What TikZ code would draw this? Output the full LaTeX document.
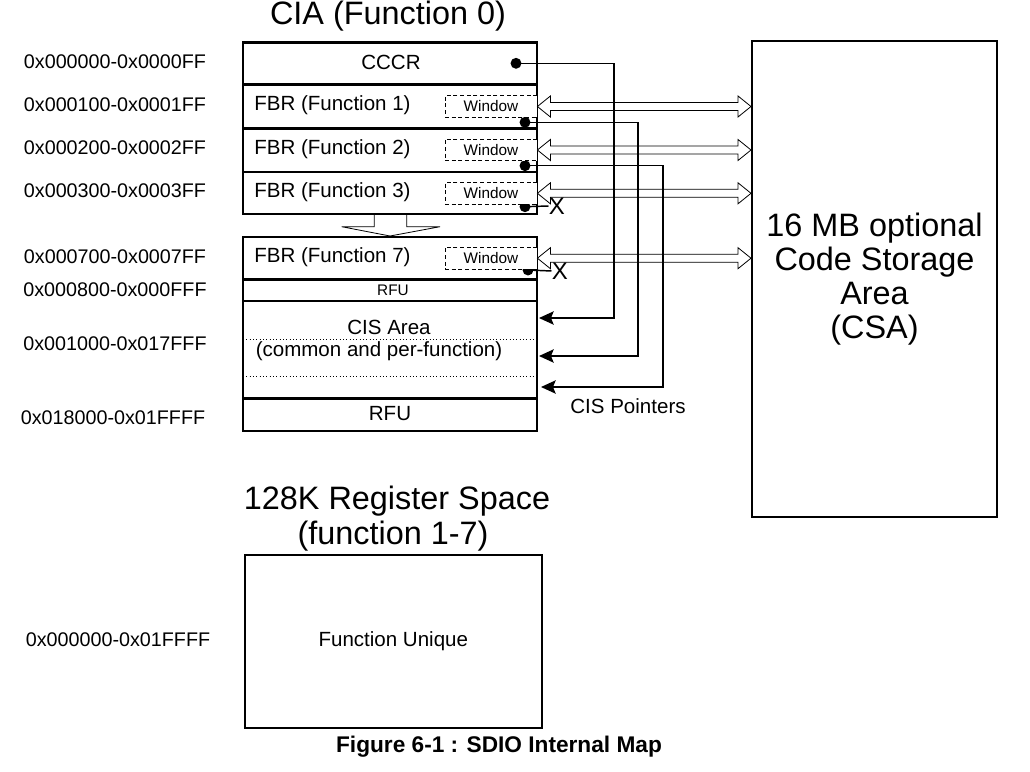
\documentclass[tikz,border=0pt]{standalone}
\usepackage{fontspec}
\setmainfont{Liberation Sans}
\usepackage{tikz}
\usetikzlibrary{arrows.meta,calc}

% hollow double arrow between a window (#1) and the CSA edge (#2)
\newcommand{\winarrow}[2]{%
  \draw[hollow] (#1) -- ($(#1)+(13,-10.5)$) -- ($(#1)+(13,-4)$) -- ($(#2)+(-13,-4)$)
    -- ($(#2)+(-13,-10.5)$) -- (#2) -- ($(#2)+(-13,10.5)$) -- ($(#2)+(-13,4)$)
    -- ($(#1)+(13,4)$) -- ($(#1)+(13,10.5)$) -- cycle;}

\begin{document}
\begin{tikzpicture}[x=0.75pt,y=-0.75pt,>=Stealth,line join=miter,
  mapline/.style={line width=1.8pt},
  winbox/.style={draw,dash pattern=on 3pt off 2pt,line width=0.6pt,fill=white,
    minimum width=69pt,minimum height=16.2pt,inner sep=0pt,font=\fontsize{11.5}{13}\selectfont},
  addr/.style={font=\fontsize{14.8}{17}\selectfont,inner sep=0pt},
  rowtext/.style={font=\fontsize{15.4}{18}\selectfont,inner sep=0pt},
  smalltext/.style={font=\fontsize{11.5}{13}\selectfont,inner sep=0pt},
  bigtext/.style={font=\fontsize{24.3}{25.5}\selectfont,inner sep=0pt},
  ptr/.style={line width=1.1pt,-{Stealth[length=11pt,width=10pt,inset=2pt]}},
  link/.style={line width=1.1pt},
  hollow/.style={draw,fill=white,line width=0.6pt},
  dotmark/.style={circle,fill,inner sep=0pt,minimum size=8.2pt},
  nomark/.style={font=\fontsize{18}{20}\selectfont,inner sep=0pt}]
  \useasboundingbox (0,0) rectangle (1030,771);

  % titles
  \node[bigtext] (ciatitle) at (388,16) {CIA (Function 0)};
  \node[bigtext] (regtitle) at (397,501) {128K Register Space};
  \node[bigtext] (regsub) at (393,536.5) {(function 1-7)};

  % CIA map, upper block
  \draw[mapline] (243,42.5) rectangle (537,214);
  \foreach \y in {84.3,128.3,171.7}
    \draw[mapline] (243,\y) -- (537,\y);
  % lower block
  \draw[mapline] (243,237) rectangle (537,431);
  \foreach \y in {279.3,301,398.3}
    \draw[mapline] (243,\y) -- (537,\y);
  \foreach \y in {339,376.7}
    \draw[dotted,line width=0.5pt] (243,\y) -- (537,\y);
  % gap arrow
  \draw[line width=0.6pt] (374.3,214) -- (374.3,226.7) -- (341.7,226.7) -- (390,236)
    -- (440,226.7) -- (406.7,226.7) -- (406.7,214);

  % row texts
  \node[rowtext] (cccr) at (391,62) {CCCR};
  \node[rowtext,anchor=west] (fbr1) at (254,105) {FBR (Function 1)};
  \node[rowtext,anchor=west] (fbr2) at (254,149) {FBR (Function 2)};
  \node[rowtext,anchor=west] (fbr3) at (254,192) {FBR (Function 3)};
  \node[rowtext,anchor=west] (fbr7) at (254,257) {FBR (Function 7)};
  \node[smalltext] (rfulow) at (393,290) {RFU};
  \node[rowtext] (cisarea) at (389,327) {CIS Area};
  \node[rowtext] (cisnote) at (379,351) {(common and per-function)};
  \node[rowtext] (rfuhigh) at (390,414) {RFU};

  % address ranges
  \node[addr] (a0) at (115,62) {0x000000-0x0000FF};
  \node[addr] (a1) at (115,105) {0x000100-0x0001FF};
  \node[addr] (a2) at (115,148) {0x000200-0x0002FF};
  \node[addr] (a3) at (115,191) {0x000300-0x0003FF};
  \node[addr] (a7) at (115,257) {0x000700-0x0007FF};
  \node[addr] (a8) at (115,290) {0x000800-0x000FFF};
  \node[addr] (acis) at (115,344) {0x001000-0x017FFF};
  \node[addr] (arfu) at (113,418) {0x018000-0x01FFFF};
  \node[addr] (areg) at (118,640) {0x000000-0x01FFFF};

  % CIS pointer sources
  \node[dotmark] (d0) at (516,63.3) {};
  \node[dotmark] (d1) at (525,122.3) {};
  \node[dotmark] (d2) at (525,165.7) {};
  \node[dotmark] (d3) at (525,206.7) {};
  \node[dotmark] (d7) at (528,270) {};

  % windows
  \node[winbox] (win1) at (491,106.5) {Window};
  \node[winbox] (win2) at (491,150) {Window};
  \node[winbox] (win3) at (491,193.3) {Window};
  \node[winbox] (win7) at (491,258.2) {Window};

  % code storage area
  \node[draw,line width=1.5pt,minimum width=183.75pt,minimum height=357pt,
    align=center,bigtext] (csa) at (874.5,279) {16 MB optional\\Code Storage\\Area\\(CSA)};

  \foreach \w in {win1,win2,win3,win7}{
    \coordinate (t) at (\w.east -| csa.west);
    \winarrow{\w.east}{t}
  }

  % pointers into the CIS area
  \coordinate (b0) at (614,318);
  \coordinate (b1) at (638,356);
  \coordinate (b2) at (663,387);
  \coordinate (c0) at (539,318);
  \coordinate (c1) at (539,356);
  \coordinate (c2) at (541,387);
  \draw[ptr] (d0.center) -| (b0) -- (c0);
  \draw[ptr] (d1.center) -| (b1) -- (c1);
  \draw[ptr] (d2.center) -| (b2) -- (c2);
  \node[rowtext] (cisptr) at (628,406) {CIS Pointers};

  % unused pointers
  \node[nomark,anchor=west] (x3) at (548.5,206) {X};
  \node[nomark,anchor=west] (x7) at (551.5,271) {X};
  \draw[link] (d3.center) -- (x3.west);
  \draw[link] (d7.center) -- (x7.west);

  % function register space
  \node[draw,line width=1.5pt,minimum width=222.5pt,minimum height=129.75pt,
    font=\fontsize{15.4}{18}\selectfont] (regbox) at (393.3,641.5) {Function Unique};

  \node[font=\fontsize{17}{20}\selectfont\bfseries] (caption) at (499,747) {Figure 6-1 : SDIO Internal Map};
\end{tikzpicture}
\end{document}
